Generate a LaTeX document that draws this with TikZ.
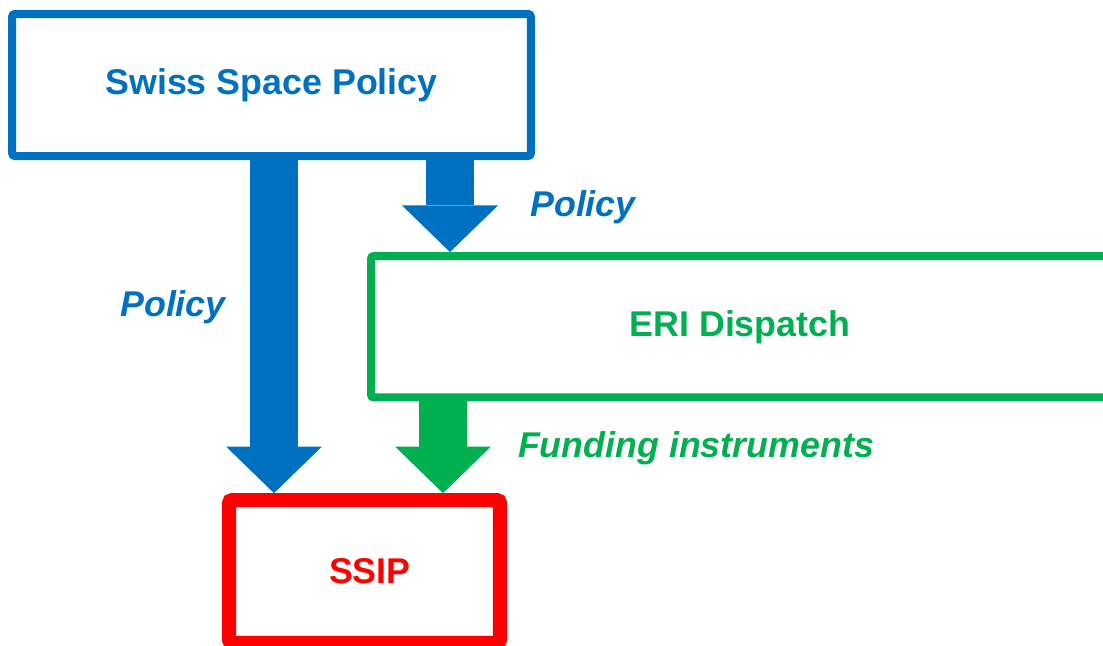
\documentclass[tikz,border=0pt]{standalone}
\usepackage{fontspec}
\setmainfont{Liberation Sans}
\usetikzlibrary{arrows.meta,positioning}
\definecolor{policyblue}{HTML}{0070C0}
\definecolor{erigreen}{HTML}{00B050}
\definecolor{ssipred}{HTML}{FF0000}

\begin{document}
\begin{tikzpicture}[x=0.75pt, y=-0.75pt,
    box/.style={draw, fill=white, rounded corners=2pt, inner sep=0pt,
        font=\fontsize{26.85}{32}\selectfont\bfseries},
    bigarrow/.style={line width=36pt,
        -{Triangle[length=35pt, width=72pt, line width=0pt]}},
    lbl/.style={font=\fontsize{26.85}{32}\selectfont\bfseries\itshape}]
            \useasboundingbox (0,0) rectangle (1103,646);
            \clip (0,0) rectangle (1103,646);

            % Boxes
            \node[box, draw=policyblue, text=policyblue, line width=6pt,
                minimum width=389pt, minimum height=106.5pt] (swiss) at (271.5,85) {Swiss Space Policy};
            \node[box, draw=erigreen, text=erigreen, line width=6pt,
                minimum width=553.5pt, minimum height=106pt] (eri) at (740,326.75) {\raisebox{-3pt}{ERI Dispatch}};
            \node[box, draw=ssipred, text=ssipred, line width=10.5pt,
                minimum width=203pt, minimum height=107pt] (ssip) at (364.5,571.5) {\hspace*{8pt}SSIP};

            % Columns of the arrows
            \coordinate (leftx) at (274,0);
            \coordinate (midx) at (450,0);
            \coordinate (fundx) at (443,0);

            % Arrows
            \draw[bigarrow, policyblue] (swiss.south -| leftx) -- (ssip.north -| leftx);
            \draw[bigarrow, policyblue] (swiss.south -| midx) -- (eri.north -| midx);
            \draw[bigarrow, erigreen] (eri.south -| fundx) -- (ssip.north -| fundx);

            % Labels
            \node[lbl, text=policyblue] (policyright) at (583,207) {Policy};
            \node[lbl, text=policyblue] (policyleft) at (173,307) {Policy};
            \node[lbl, text=erigreen] (funding) at (696,448) {Funding instruments};
      \end{tikzpicture}
\end{document}
